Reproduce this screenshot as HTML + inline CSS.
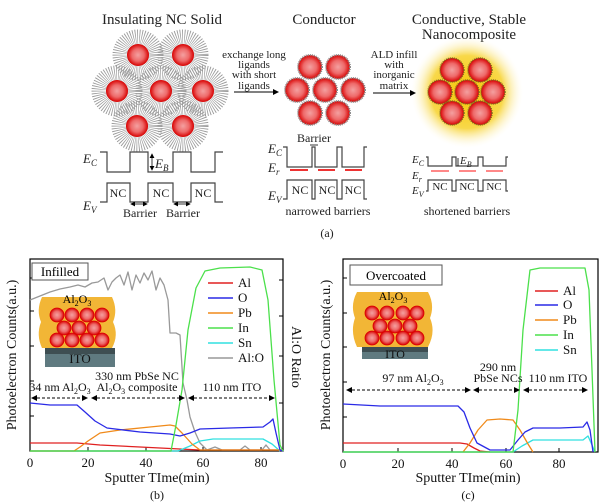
<!DOCTYPE html>
<html><head><meta charset="utf-8"><style>
html,body{margin:0;padding:0;background:#fff}
svg{display:block;font-family:"Liberation Serif",serif}
</style></head><body>
<svg width="607" height="504" viewBox="0 0 607 504" xmlns="http://www.w3.org/2000/svg">
<defs>
<radialGradient id="sp" cx="50%" cy="50%" r="50%">
<stop offset="0" stop-color="#f4a0a0"/><stop offset="0.55" stop-color="#ee6a6a"/><stop offset="1" stop-color="#d80000"/></radialGradient>
<radialGradient id="glow" cx="50%" cy="50%" r="50%">
<stop offset="0" stop-color="#f5c400"/><stop offset="0.65" stop-color="#f8d84a"/><stop offset="1" stop-color="#fffbe8" stop-opacity="0"/></radialGradient>
<marker id="ah" markerWidth="6" markerHeight="6" refX="5" refY="3" orient="auto"><path d="M0,0 L6,3 L0,6 z" fill="#000"/></marker>
<marker id="at" markerWidth="6" markerHeight="6" refX="1" refY="3" orient="auto"><path d="M6,0 L0,3 L6,6 z" fill="#000"/></marker>
</defs>
<g font-size="15" text-anchor="middle" fill="#222">
<text x="162" y="24">Insulating NC Solid</text>
<text x="324" y="24">Conductor</text>
<text x="469" y="24">Conductive, Stable</text>
<text x="469" y="39">Nanocomposite</text>
</g>
<!-- left fuzzy spheres -->
<g>
<g fill="none" stroke="#999" stroke-width="15" stroke-dasharray="0.7 1.3">
<circle cx="138" cy="55" r="18"/><circle cx="183" cy="55" r="18"/>
<circle cx="117" cy="91" r="18"/><circle cx="161" cy="91" r="18"/><circle cx="203" cy="91" r="18"/>
<circle cx="137" cy="126" r="18"/><circle cx="183" cy="126" r="18"/>
</g>
<g fill="url(#sp)">
<circle cx="138" cy="55" r="11"/><circle cx="183" cy="55" r="11"/>
<circle cx="117" cy="91" r="11"/><circle cx="161" cy="91" r="11"/><circle cx="203" cy="91" r="11"/>
<circle cx="137" cy="126" r="11"/><circle cx="183" cy="126" r="11"/>
</g></g>
<!-- middle -->
<g fill="url(#sp)" stroke="#888" stroke-width="2" stroke-dasharray="1 1">
<circle cx="310" cy="67" r="12"/><circle cx="338" cy="67" r="12"/>
<circle cx="297" cy="90" r="12"/><circle cx="325" cy="90" r="12"/><circle cx="353" cy="90" r="12"/>
<circle cx="310" cy="113" r="12"/><circle cx="338" cy="113" r="12"/>
</g>
<!-- right -->
<circle cx="467" cy="92" r="56" fill="url(#glow)"/>
<g fill="url(#sp)" stroke="#7a6a20" stroke-width="1.5" stroke-dasharray="1 1">
<circle cx="452" cy="70" r="12"/><circle cx="480" cy="70" r="12"/>
<circle cx="440" cy="92" r="12"/><circle cx="467" cy="92" r="12"/><circle cx="493" cy="92" r="12"/>
<circle cx="452" cy="113" r="12"/><circle cx="480" cy="113" r="12"/>
</g>
<!-- arrows top -->
<g font-size="11" text-anchor="middle" fill="#222">
<text x="254" y="58">exchange long</text><text x="254" y="68">ligands</text><text x="254" y="78">with short</text><text x="254" y="89">ligands</text>
<text x="394" y="58">ALD infill</text><text x="394" y="68">with</text><text x="394" y="78">inorganic</text><text x="394" y="89">matrix</text>
</g>
<line x1="234" y1="92" x2="278" y2="92" stroke="#000" marker-end="url(#ah)"/>
<line x1="373" y1="93" x2="415" y2="93" stroke="#000" marker-end="url(#ah)"/>
<!-- band diagrams -->
<g fill="none" stroke="#444" stroke-width="1.2">
<path d="M100,152 L107,152 L107,172 L130,172 L130,152 L148,152 L148,172 L173,172 L173,152 L191,152 L191,172 L215,172 L215,152 L223,152"/>
<path d="M100,202 L107,202 L107,183 L130,183 L130,202 L148,202 L148,183 L173,183 L173,202 L191,202 L191,183 L215,183 L215,202 L223,202"/>
<path d="M283,147 L287,147 L287,167 L312,167 L312,147 L315,147 L315,167 L337,167 L337,147 L342,147 L342,167 L364,167 L364,147 L367,147"/>
<path d="M283,199 L287,199 L287,180 L312,180 L312,199 L315,199 L315,180 L337,180 L337,199 L342,199 L342,180 L364,180 L364,199 L367,199"/>
<path d="M426,157 L428,157 L428,166 L452,166 L452,157 L456,157 L456,166 L478,166 L478,157 L483,157 L483,166 L506,166 L506,157 L508,157"/>
<path d="M426,191 L428,191 L428,180 L452,180 L452,191 L456,191 L456,180 L478,180 L478,191 L483,191 L483,180 L506,180 L506,191 L508,191"/>
</g>
<g stroke="#e33" stroke-width="2">
<line x1="290" y1="170" x2="308" y2="170"/><line x1="318" y1="170" x2="335" y2="170"/><line x1="345" y1="170" x2="362" y2="170"/>
<line x1="431" y1="171" x2="449" y2="171" stroke="#f88"/><line x1="459" y1="171" x2="476" y2="171" stroke="#f88"/><line x1="486" y1="171" x2="503" y2="171" stroke="#f88"/>
</g>
<g stroke="#000" stroke-width="0.8">
<line x1="131" y1="204" x2="147" y2="204" marker-end="url(#ah)" marker-start="url(#at)"/>
<line x1="174" y1="204" x2="190" y2="204" marker-end="url(#ah)" marker-start="url(#at)"/>
<line x1="152" y1="154" x2="152" y2="170" marker-end="url(#ah)" marker-start="url(#at)"/>
<line x1="310" y1="145" x2="318" y2="145"/>
<line x1="458" y1="158" x2="458" y2="166"/>
</g>
<g font-size="13" fill="#222" font-style="italic">
<text x="83" y="163">E<tspan font-size="9" dy="3">C</tspan></text>
<text x="83" y="210">E<tspan font-size="9" dy="3">V</tspan></text>
<text x="155" y="168">E<tspan font-size="9" dy="3">B</tspan></text>
<text x="268" y="153">E<tspan font-size="9" dy="3">C</tspan></text>
<text x="268" y="172">E<tspan font-size="9" dy="3">r</tspan></text>
<text x="268" y="200">E<tspan font-size="9" dy="3">V</tspan></text>
<text x="412" y="163" font-size="11">E<tspan font-size="8" dy="3">C</tspan></text>
<text x="412" y="179" font-size="11">E<tspan font-size="8" dy="3">r</tspan></text>
<text x="412" y="194" font-size="11">E<tspan font-size="8" dy="3">V</tspan></text>
<text x="460" y="164" font-size="11">E<tspan font-size="8" dy="3">B</tspan></text>
</g>
<g font-size="12" fill="#222" text-anchor="middle">
<text x="118" y="197">NC</text><text x="161" y="197">NC</text><text x="203" y="197">NC</text>
<text x="300" y="194">NC</text><text x="327" y="194">NC</text><text x="353" y="194">NC</text>
<text x="440" y="190" font-size="11">NC</text><text x="467" y="190" font-size="11">NC</text><text x="494" y="190" font-size="11">NC</text>
<text x="140" y="217">Barrier</text><text x="183" y="217">Barrier</text>
<text x="314" y="142">Barrier</text>
<text x="328" y="215">narrowed barriers</text>
<text x="467" y="215">shortened barriers</text>
<text x="327" y="237">(a)</text>
</g>

<!-- ===== Panel b ===== -->
<rect x="30" y="259" width="253" height="192" fill="none" stroke="#000" stroke-width="1.2"/>
<g stroke="#000" stroke-width="1">
<line x1="30" y1="451" x2="30" y2="447"/><line x1="88" y1="451" x2="88" y2="447"/><line x1="146" y1="451" x2="146" y2="447"/><line x1="203" y1="451" x2="203" y2="447"/><line x1="261" y1="451" x2="261" y2="447"/>
<line x1="30" y1="416" x2="34" y2="416"/><line x1="30" y1="381" x2="34" y2="381"/><line x1="30" y1="346" x2="34" y2="346"/><line x1="30" y1="311" x2="34" y2="311"/><line x1="30" y1="278" x2="34" y2="278"/>
<line x1="283" y1="403" x2="279" y2="403"/><line x1="283" y1="356" x2="279" y2="356"/><line x1="283" y1="316" x2="279" y2="316"/><line x1="283" y1="280" x2="279" y2="280"/>
</g>
<path d="M42,297 L112,297 Q118,310 113,322 Q119,335 112,348 L42,348 Q36,335 41,322 Q36,310 42,297z" fill="#f2b636"/>
<rect x="45" y="348" width="70" height="19" fill="#5f7a80"/>
<rect x="45" y="348" width="70" height="6" fill="#3e4e52"/>
<g fill="url(#sp)" stroke="#d00" stroke-width="0.8">
<circle cx="57" cy="315" r="7"/><circle cx="72" cy="315" r="7"/><circle cx="87" cy="315" r="7"/><circle cx="102" cy="315" r="7"/>
<circle cx="64" cy="328" r="7"/><circle cx="79" cy="328" r="7"/><circle cx="94" cy="328" r="7"/>
<circle cx="57" cy="340" r="7"/><circle cx="72" cy="340" r="7"/><circle cx="87" cy="340" r="7"/><circle cx="102" cy="340" r="7"/>
</g>
<text x="77" y="303" font-size="12" text-anchor="middle">Al<tspan font-size="8" dy="3">2</tspan><tspan dy="-3">O</tspan><tspan font-size="8" dy="3">3</tspan></text>
<text x="80" y="363" font-size="13" text-anchor="middle" fill="#111">ITO</text>
<rect x="32" y="263" width="56" height="17" fill="#fff" stroke="#555"/>
<text x="60" y="276" font-size="13" text-anchor="middle">Infilled</text>
<g fill="none" stroke-width="1.3" stroke-linejoin="round">
<path stroke="#999" d="M30,300 L40,296 L50,292 L60,289 L70,287 L78,285 L85,287 L92,283 L98,282 L104,278 L108,290 L112,282 L116,278 L120,275 L124,285 L128,272 L132,290 L136,275 L140,283 L144,273 L148,280 L152,271 L156,290 L160,278 L164,285 L168,300 L170,333 L176,333 L180,335 L183,383 L187,400 L190,417 L195,432 L200,443 L207,450 L215,447 L222,450 L240,450 L245,446 L250,450 L262,450 L266,445 L270,450 L283,450"/>
<path stroke="#e02020" d="M30,443 L77,443 L100,445 L140,447 L180,449 L200,450 L283,450"/>
<path stroke="#30e0e0" d="M30,451 L178,451 L190,446 L200,441 L213,439 L263,439 L272,444 L280,451"/>
<path stroke="#f08a1a" d="M30,451 L74,451 L80,447 L88,441 L100,433 L120,430 L150,427 L170,425 L175,426 L182,433 L192,444 L200,450 L283,450"/>
<path stroke="#2a2ae6" d="M30,403 L50,405 L77,405 L85,412 L95,421 L107,428 L140,432 L170,434 L180,436 L190,433 L200,429 L230,428 L263,427 L270,422 L273,419 L276,433 L280,450 L283,451"/>
<path stroke="#4be04b" d="M30,451 L171,451 L176,425 L182,390 L188,330 L196,288 L205,271 L220,268 L250,267 L262,270 L268,300 L274,380 L280,445 L283,451"/>
</g>
<g stroke-width="1.5">
<line x1="208" y1="283" x2="233" y2="283" stroke="#e02020"/>
<line x1="208" y1="298" x2="233" y2="298" stroke="#2a2ae6"/>
<line x1="208" y1="313" x2="233" y2="313" stroke="#f08a1a"/>
<line x1="208" y1="328" x2="233" y2="328" stroke="#4be04b"/>
<line x1="208" y1="343" x2="233" y2="343" stroke="#30e0e0"/>
<line x1="208" y1="358" x2="233" y2="358" stroke="#999"/>
</g>
<g font-size="13" fill="#111">
<text x="238" y="287">Al</text><text x="238" y="302">O</text><text x="238" y="317">Pb</text><text x="238" y="332">In</text><text x="238" y="347">Sn</text><text x="238" y="362">Al:O</text>
</g>
<g stroke="#000" stroke-width="1" stroke-dasharray="3 2">
<line x1="32" y1="398" x2="87" y2="398" marker-end="url(#ah)" marker-start="url(#at)"/>
<line x1="92" y1="398" x2="184" y2="398" marker-end="url(#ah)" marker-start="url(#at)"/>
<line x1="189" y1="398" x2="274" y2="398" marker-end="url(#ah)" marker-start="url(#at)"/>
</g>
<g font-size="12" text-anchor="middle" fill="#111">
<text x="60" y="391">34 nm Al<tspan font-size="8" dy="3">2</tspan><tspan dy="-3">O</tspan><tspan font-size="8" dy="3">3</tspan></text>
<text x="137" y="380">330 nm PbSe NC</text>
<text x="137" y="391">Al<tspan font-size="8" dy="3">2</tspan><tspan dy="-3">O</tspan><tspan font-size="8" dy="3">3</tspan><tspan dy="-3"> composite</tspan></text>
<text x="232" y="391">110 nm ITO</text>
</g>
<g font-size="13" text-anchor="middle" fill="#111">
<text x="30" y="467">0</text><text x="88" y="467">20</text><text x="146" y="467">40</text><text x="203" y="467">60</text><text x="261" y="467">80</text>
<text x="157" y="482" font-size="14">Sputter TIme(min)</text>
<text x="157" y="499" font-size="12">(b)</text>
<text transform="translate(16,355) rotate(-90)" font-size="14">Photoelectron Counts(a.u.)</text>
<text transform="translate(292,357) rotate(90)" font-size="14">Al:O Ratio</text>
</g>

<!-- ===== Panel c ===== -->
<rect x="343" y="259" width="255" height="193" fill="none" stroke="#000" stroke-width="1.2"/>
<g stroke="#000" stroke-width="1">
<line x1="343" y1="452" x2="343" y2="448"/><line x1="398" y1="452" x2="398" y2="448"/><line x1="452" y1="452" x2="452" y2="448"/><line x1="506" y1="452" x2="506" y2="448"/><line x1="559" y1="452" x2="559" y2="448"/>
<line x1="343" y1="417" x2="347" y2="417"/><line x1="343" y1="382" x2="347" y2="382"/><line x1="343" y1="347" x2="347" y2="347"/><line x1="343" y1="313" x2="347" y2="313"/><line x1="343" y1="278" x2="347" y2="278"/>
</g>
<path d="M357,292 L428,292 Q435,305 430,318 Q436,332 428,347 L357,347 Q350,332 355,318 Q350,305 357,292z" fill="#f2b636"/>
<rect x="362" y="347" width="66" height="12" fill="#5f7a80"/>
<rect x="362" y="347" width="66" height="5" fill="#3e4e52"/>
<g fill="url(#sp)" stroke="#d00" stroke-width="0.8">
<circle cx="372" cy="313" r="7"/><circle cx="387" cy="313" r="7"/><circle cx="403" cy="313" r="7"/><circle cx="417" cy="313" r="7"/>
<circle cx="380" cy="326" r="7"/><circle cx="395" cy="326" r="7"/><circle cx="410" cy="326" r="7"/>
<circle cx="372" cy="338" r="7"/><circle cx="387" cy="338" r="7"/><circle cx="403" cy="338" r="7"/><circle cx="417" cy="338" r="7"/>
</g>
<text x="393" y="300" font-size="12" text-anchor="middle">Al<tspan font-size="8" dy="3">2</tspan><tspan dy="-3">O</tspan><tspan font-size="8" dy="3">3</tspan></text>
<text x="395" y="358" font-size="12" text-anchor="middle" fill="#111">ITO</text>
<rect x="350" y="265" width="92" height="20" fill="#fff" stroke="#555"/>
<text x="396" y="280" font-size="13" text-anchor="middle">Overcoated</text>
<g fill="none" stroke-width="1.3" stroke-linejoin="round">
<path stroke="#e02020" d="M343,443 L460,443 L467,444 L474,448 L480,451 L490,452"/>
<path stroke="#30e0e0" d="M343,452 L513,452 L522,446 L533,440 L583,440 L588,436 L592,445 L595,452"/>
<path stroke="#f08a1a" d="M463,452 L470,443 L478,430 L487,420 L500,419 L513,420 L520,430 L528,444 L533,452"/>
<path stroke="#2a2ae6" d="M343,404 L380,406 L420,406 L458,406 L464,412 L470,428 L477,443 L490,450 L510,450 L518,440 L525,432 L533,428 L560,428 L583,427 L587,422 L590,430 L593,452"/>
<path stroke="#4be04b" d="M343,452 L513,452 L518,410 L523,330 L530,270 L540,268 L585,268 L589,290 L592,370 L595,452"/>
</g>
<g stroke-width="1.5">
<line x1="535" y1="291" x2="558" y2="291" stroke="#e02020"/>
<line x1="535" y1="305" x2="558" y2="305" stroke="#2a2ae6"/>
<line x1="535" y1="320" x2="558" y2="320" stroke="#f08a1a"/>
<line x1="535" y1="335" x2="558" y2="335" stroke="#4be04b"/>
<line x1="535" y1="350" x2="558" y2="350" stroke="#30e0e0"/>
</g>
<g font-size="13" fill="#111">
<text x="563" y="295">Al</text><text x="563" y="309">O</text><text x="563" y="324">Pb</text><text x="563" y="339">In</text><text x="563" y="354">Sn</text>
</g>
<g stroke="#000" stroke-width="1" stroke-dasharray="3 2">
<line x1="347" y1="390" x2="470" y2="390" marker-end="url(#ah)" marker-start="url(#at)"/>
<line x1="474" y1="390" x2="519" y2="390" marker-end="url(#ah)" marker-start="url(#at)"/>
<line x1="524" y1="390" x2="587" y2="390" marker-end="url(#ah)" marker-start="url(#at)"/>
</g>
<g font-size="12" text-anchor="middle" fill="#111">
<text x="413" y="382">97 nm Al<tspan font-size="8" dy="3">2</tspan><tspan dy="-3">O</tspan><tspan font-size="8" dy="3">3</tspan></text>
<text x="498" y="371">290 nm</text>
<text x="498" y="382">PbSe NCs</text>
<text x="558" y="382">110 nm ITO</text>
</g>
<g font-size="13" text-anchor="middle" fill="#111">
<text x="343" y="468">0</text><text x="398" y="468">20</text><text x="452" y="468">40</text><text x="506" y="468">60</text><text x="559" y="468">80</text>
<text x="468" y="482" font-size="14">Sputter TIme(min)</text>
<text x="468" y="499" font-size="12">(c)</text>
<text transform="translate(330,355) rotate(-90)" font-size="14">Photoelectron Counts(a.u.)</text>
</g>
</svg>
</body></html>
